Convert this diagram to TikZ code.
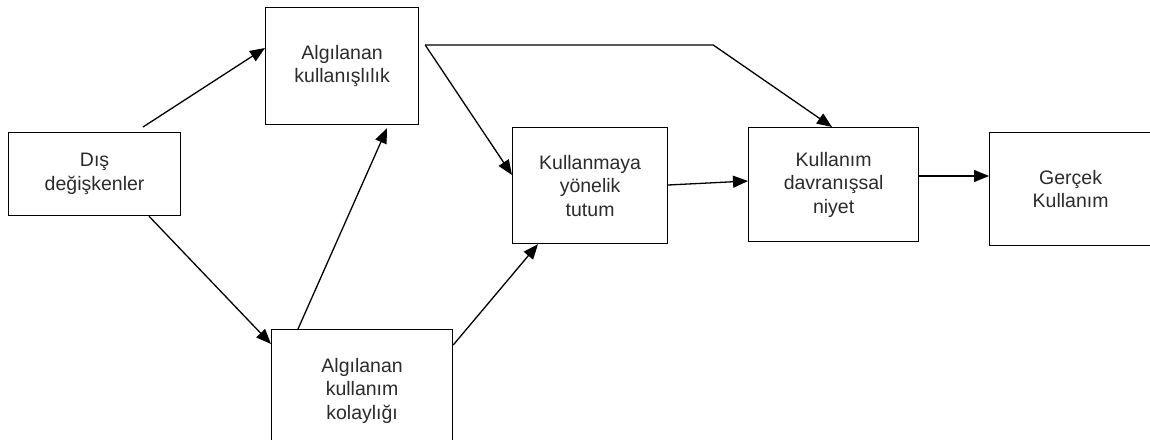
\documentclass[tikz,border=0pt]{standalone}
\usepackage{fontspec}
\setmainfont{Liberation Sans}
\usetikzlibrary{arrows.meta,calc}
\definecolor{txt}{HTML}{2B2B2B}
\tikzset{
  box/.style={draw=black, line width=1.2pt, anchor=north west, align=center,
    inner sep=0pt, text=txt, font=\fontsize{19.5}{23.5}\selectfont},
  conn/.style={draw=black, line width=1.3pt, -{Triangle[length=15pt,width=12pt]}}
}
\begin{document}
\begin{tikzpicture}[x=1pt,y=-1pt]
\useasboundingbox (0,0) rectangle (1150,439);
\clip (0,0) rectangle (1150,439);
\fill[white] (0,0) rectangle (1150,439);
\node[box, minimum width=172pt, minimum height=83pt] (dis) at (8,132) {Dış\\değişkenler};
\node[box, minimum width=153pt, minimum height=117pt] (use) at (265,7) {Algılanan\\kullanışlılık};
\node[box, minimum width=181pt, minimum height=122pt] (ease) at (271,329) {Algılanan\\kullanım\\kolaylığı};
\node[box, minimum width=155pt, minimum height=116pt] (att) at (512,127) {Kullanmaya\\yönelik\\tutum};
\node[box, minimum width=170pt, minimum height=114pt] (bi) at (748,127) {Kullanım\\davranışsal\\niyet};
\node[box, minimum width=162pt, minimum height=113pt] (actual) at (989,132) {Gerçek\\Kullanım};
\coordinate (usestart) at ($(use.north east)+(6,38)$);
\coordinate (corner) at ($(usestart)+(288,0)$);
\draw[conn] ($(dis.north west)+(135,-5)$) -- ($(use.north west)+(0,41)$);
\draw[conn] ($(dis.south west)+(141,0)$) -- ($(ease.north west)+(0,15)$);
\draw[conn] ($(ease.north west)+(27,0)$) -- ($(use.south west)+(122,3)$);
\draw[conn] ($(ease.north east)+(0,16)$) -- ($(att.south west)+(26,0)$);
\draw[conn] (usestart) -- ($(att.north west)+(0,48)$);
\draw[conn] (usestart) -- (corner) -- ($(bi.north west)+(84,0)$);
\draw[conn] ($(att.north east)+(0,58)$) -- ($(bi.north west)+(0,54)$);
\draw[conn] ($(bi.north east)+(0,49)$) -- ($(actual.north west)+(0,44)$);
\end{tikzpicture}
\end{document}
